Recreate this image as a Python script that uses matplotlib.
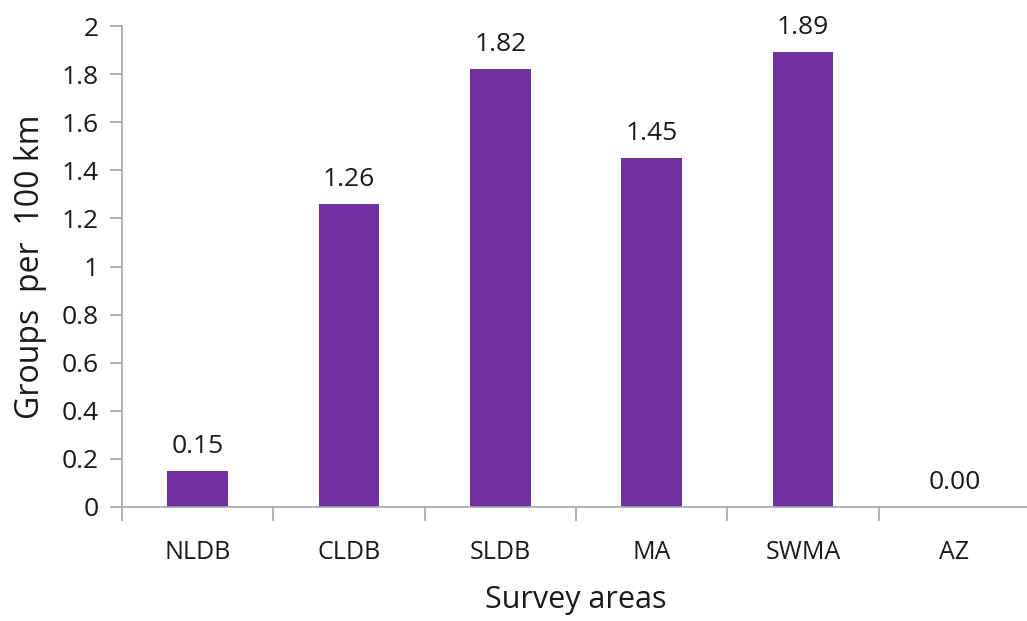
import numpy as np
import matplotlib.pyplot as plt
from matplotlib.ticker import FixedLocator, NullFormatter

areas = ["NLDB", "CLDB", "SLDB", "MA", "SWMA", "AZ"]
groups_per_100km = [0.15, 1.26, 1.82, 1.45, 1.89, 0.00]
yticks = [0, 0.2, 0.4, 0.6, 0.8, 1, 1.2, 1.4, 1.6, 1.8, 2]
ytick_labels = ["0", "0.2", "0.4", "0.6", "0.8", "1", "1.2", "1.4", "1.6", "1.8", "2"]

plt.rcParams["font.family"] = ["Open Sans", "DejaVu Sans"]
axis_grey = "#A6A6A6"
text_col = "#1a1a1a"

fig = plt.figure(figsize=(10.27, 6.21), dpi=100)
ax = fig.add_axes([0.1188, 0.1836, 0.8842, 0.7745])

x = np.arange(len(areas))
ax.bar(x, groups_per_100km, width=0.4, color="#7030A0")

for xi, v in zip(x, groups_per_100km):
    ax.text(xi, v + 0.05, f"{v:.2f}", ha="center", va="bottom", fontsize=19, color=text_col)

ax.set_xlim(-0.5, len(areas) - 0.5)
ax.set_ylim(0, 2)
ax.set_yticks(yticks)
ax.set_yticklabels(ytick_labels)

# category labels centred, tick marks on the boundaries
ax.set_xticks(x)
ax.set_xticklabels(areas)
ax.tick_params(axis="x", which="major", length=0, pad=24, labelsize=18, labelcolor=text_col)
ax.xaxis.set_minor_locator(FixedLocator(np.arange(-0.5, len(areas), 1.0)))
ax.xaxis.set_minor_formatter(NullFormatter())
ax.tick_params(axis="x", which="minor", length=10, width=1.2, color=axis_grey)
ax.tick_params(axis="y", length=9, width=1.2, color=axis_grey, labelsize=19, labelcolor=text_col, pad=8)

for side in ["top", "right"]:
    ax.spines[side].set_visible(False)
for side in ["left", "bottom"]:
    ax.spines[side].set_color(axis_grey)
    ax.spines[side].set_linewidth(1.2)

ax.set_xlabel("Survey areas", fontsize=22, color=text_col, labelpad=14)
ax.set_ylabel("Groups  per  100 km", fontsize=23, color=text_col, labelpad=10)

fig.savefig("out.png", dpi=100)
